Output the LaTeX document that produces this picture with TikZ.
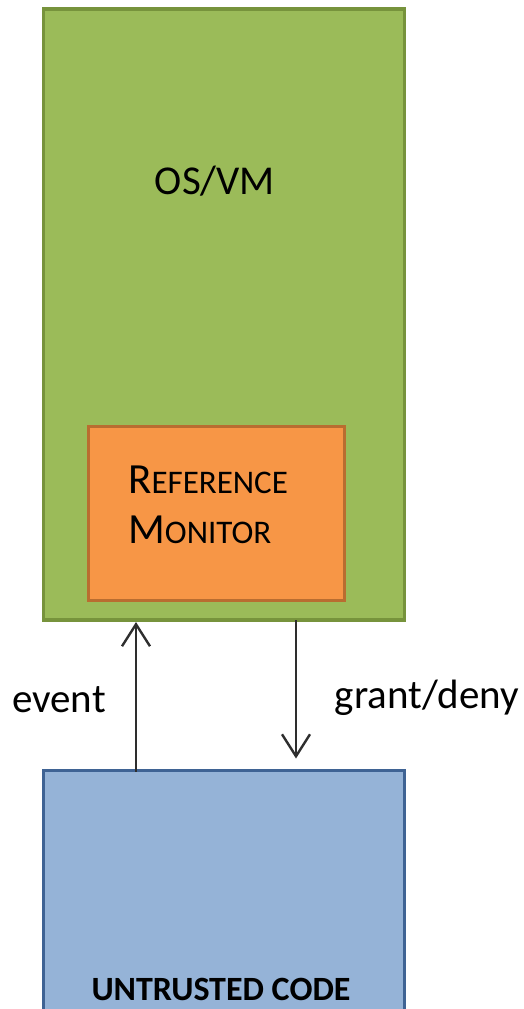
\documentclass[tikz,border=0pt]{standalone}
\usepackage{fontspec}
\setmainfont{Carlito}
\usetikzlibrary{arrows.meta,calc}
\definecolor{osfill}{HTML}{9BBB59}
\definecolor{osline}{HTML}{77933C}
\definecolor{rmfill}{HTML}{F79646}
\definecolor{rmline}{HTML}{B96D30}
\definecolor{codefill}{HTML}{95B3D7}
\definecolor{codeline}{HTML}{3F6394}
\definecolor{arrowc}{HTML}{2E2E2E}
\tikzset{
  x=1pt, y=1pt,
  box/.style={draw, line width=3.8pt, inner sep=0pt, outer sep=0pt, anchor=north west},
  flow/.style={draw=arrowc, line width=2.6pt, -{Straight Barb[length=22pt,width=28pt,line width=2.4pt]}},
  txt/.style={inner sep=0pt, anchor=base, text=black}
}
\begin{document}
\begin{tikzpicture}
\useasboundingbox (0,0) rectangle (524,-1009);
\clip (0,0) rectangle (524,-1009);
% operating system / virtual machine
\node[box, fill=osfill, draw=osline, minimum width=361pt, minimum height=611pt] (os) at (43.5,-9) {};
\node[txt, font=\fontsize{41}{41}\selectfont] (oslbl) at (215,-194) {OS/VM};
% reference monitor inside it
\node[box, fill=rmfill, draw=rmline, minimum width=256pt, minimum height=174pt] (rm) at (88.5,-426.5) {};
\node[txt, anchor=base west, font=\fontsize{43}{43}\selectfont] (rmlbl1) at (128,-493) {R{\fontsize{33}{33}\selectfont EFERENCE}};
\node[txt, anchor=base west, font=\fontsize{43}{43}\selectfont] (rmlbl2) at (128,-543) {M{\fontsize{33}{33}\selectfont ONITOR}};
% untrusted code below
\node[box, fill=codefill, draw=codeline, minimum width=361pt, minimum height=300pt] (code) at (43.5,-770.5) {};
\node[txt, font=\bfseries\fontsize{34}{34}\selectfont] (codelbl) at (221,-1000) {UNTRUSTED CODE};
% event / grant-deny connectors
\coordinate (evfrom) at ($(code.north west)+(92.5,-1)$);
\coordinate (evto) at ($(os.south west)+(92.5,-2)$);
\coordinate (gdfrom) at ($(os.south west)+(252.5,0)$);
\coordinate (gdto) at ($(code.north west)+(252.5,12)$);
\draw[flow] (evfrom) -- (evto);
\draw[flow] (gdfrom) -- (gdto);
\node[txt, font=\fontsize{41}{41}\selectfont] (evlbl) at (59,-712) {event};
\node[txt, font=\fontsize{41}{41}\selectfont] (gdlbl) at (427,-708) {grant/deny};
\end{tikzpicture}
\end{document}
